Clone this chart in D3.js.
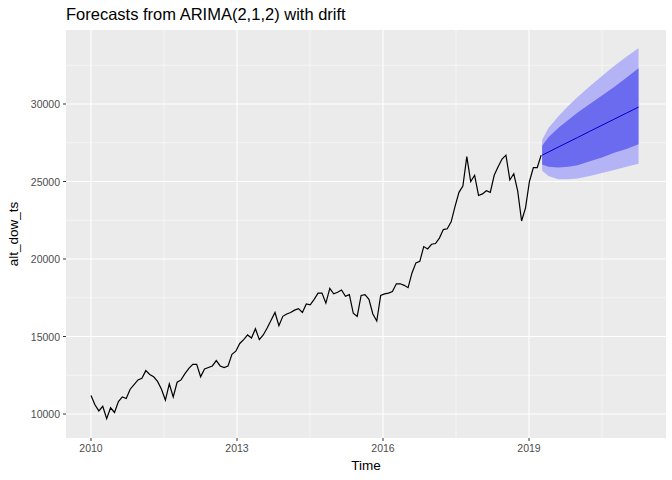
<!DOCTYPE html><html><head><script src="https://cdn.jsdelivr.net/npm/d3@7"></script>
<style>body{margin:0;background:#fff}</style></head><body><svg id="c" width="672" height="480"></svg>
<script>
const histValues=[11200,10600,10200,10500,9700,10400,10100,10800,11100,11000,11600,11900,12200,12300,12800,12550,12400,12100,11600,10900,11950,11100,12050,12200,12600,12950,13200,13200,12400,12900,13000,13100,13450,13100,13000,13100,13850,14050,14550,14800,15100,14900,15500,14800,15100,15550,16050,16550,15700,16300,16450,16550,16700,16800,16550,17100,17050,17400,17800,17800,17150,18100,17750,17850,18000,17600,17700,16500,16300,17650,17700,17400,16450,16000,17650,17750,17800,17900,18400,18400,18300,18150,19100,19750,19850,20800,20650,20950,21000,21350,21900,21950,22400,23400,24300,24700,26600,25000,25400,24100,24200,24400,24300,25400,25950,26450,26700,25100,25500,24400,22450,23300,25000,25900,25900,26700];
const fcTime=[2019.27,2019.4,2019.6,2019.8,2020,2020.25,2020.5,2020.75,2021,2021.25];
const fcMean=[26700,26900,27220,27530,27840,28240,28630,29020,29410,29800];
const lo80=[26100,25950,25900,25950,26050,26300,26550,26850,27100,27400];
const hi80=[27300,27850,28450,28950,29450,30000,30550,31100,31700,32300];
const lo95=[25700,25350,25150,25150,25200,25350,25550,25750,25950,26150];
const hi95=[27700,28450,29200,29850,30450,31150,31800,32450,33050,33600];
const xTicks=[2010,2013,2016,2019], yTicks=[10000,15000,20000,25000,30000];
const svg=d3.select("#c");
const L=66,R=666,T=30,B=438;
const x=d3.scaleLinear().domain([2009.486,2021.815]).range([L,R]);
const y=d3.scaleLinear().domain([8452,34774]).range([B,T]);
svg.append("rect").attr("x",L).attr("y",T).attr("width",R-L).attr("height",B-T).attr("fill","#EBEBEB");
const g=svg.append("g");
[2011.5,2014.5,2017.5,2020.5].forEach(v=>g.append("line").attr("x1",x(v)).attr("x2",x(v)).attr("y1",T).attr("y2",B).attr("stroke","#fff").attr("stroke-width",0.5));
[12500,17500,22500,27500,32500].forEach(v=>g.append("line").attr("x1",L).attr("x2",R).attr("y1",y(v)).attr("y2",y(v)).attr("stroke","#fff").attr("stroke-width",0.5));
xTicks.forEach(v=>g.append("line").attr("x1",x(v)).attr("x2",x(v)).attr("y1",T).attr("y2",B).attr("stroke","#fff").attr("stroke-width",1.1));
yTicks.forEach(v=>g.append("line").attr("x1",L).attr("x2",R).attr("y1",y(v)).attr("y2",y(v)).attr("stroke","#fff").attr("stroke-width",1.1));
const n=histValues.length, hist=histValues.map((v,i)=>[2010+i*9.25/(n-1),v]);
const fc=fcTime.map((t,i)=>({t,m:fcMean[i],l8:lo80[i],h8:hi80[i],l9:lo95[i],h9:hi95[i]}));
svg.append("path").attr("d",d3.area().x(d=>x(d.t)).y0(d=>y(d.l9)).y1(d=>y(d.h9))(fc)).attr("fill","#b3b3f5");
svg.append("path").attr("d",d3.area().x(d=>x(d.t)).y0(d=>y(d.l8)).y1(d=>y(d.h8))(fc)).attr("fill","#6b6bef");
svg.append("path").attr("d",d3.line().x(d=>x(d.t)).y(d=>y(d.m))(fc)).attr("fill","none").attr("stroke","#0000cc").attr("stroke-width",1);
svg.append("path").attr("d",d3.line().x(d=>x(d[0])).y(d=>y(d[1]))(hist)).attr("fill","none").attr("stroke","#000").attr("stroke-width",1.2);
const tf="font-family:Liberation Sans,Arial,sans-serif";
xTicks.forEach(v=>{svg.append("line").attr("x1",x(v)).attr("x2",x(v)).attr("y1",B).attr("y2",B+3).attr("stroke","#333");
 svg.append("text").attr("x",x(v)).attr("y",B+14).attr("text-anchor","middle").attr("style",tf).attr("font-size",10.5).attr("fill","#4d4d4d").text(v);});
yTicks.forEach(v=>{svg.append("line").attr("x1",L-3).attr("x2",L).attr("y1",y(v)).attr("y2",y(v)).attr("stroke","#333");
 svg.append("text").attr("x",L-6).attr("y",y(v)+4).attr("text-anchor","end").attr("style",tf).attr("font-size",10.5).attr("fill","#4d4d4d").text(v);});
svg.append("text").attr("x",(L+R)/2).attr("y",470).attr("text-anchor","middle").attr("style",tf).attr("font-size",13.5).text("Time");
svg.append("text").attr("transform",`translate(18,${(T+B)/2}) rotate(-90)`).attr("text-anchor","middle").attr("style",tf).attr("font-size",13.5).text("alt_dow_ts");
svg.append("text").attr("x",L).attr("y",20).attr("style",tf).attr("font-size",16.5).text("Forecasts from ARIMA(2,1,2) with drift");
</script></body></html>
